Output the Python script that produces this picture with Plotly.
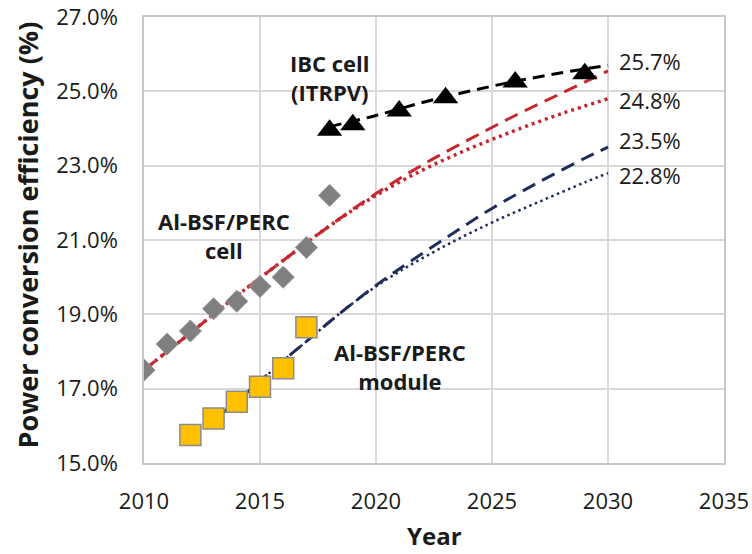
import plotly.graph_objects as go

# ---- data ----
cell_years = [2010, 2011, 2012, 2013, 2014, 2015, 2016, 2017, 2018]
cell_eff = [17.5, 18.2, 18.55, 19.15, 19.35, 19.75, 20.0, 20.8, 22.2]

module_years = [2012, 2013, 2014, 2015, 2016, 2017]
module_eff = [15.75, 16.2, 16.65, 17.05, 17.55, 18.65]

ibc_years = [2018, 2019, 2021, 2023, 2026, 2029]
ibc_eff = [23.95, 24.1, 24.47, 24.83, 25.25, 25.47]

ibc_trend_years = [2018, 2020, 2022, 2024, 2026, 2028, 2030]
ibc_trend = [24.05, 24.35, 24.7, 25.0, 25.27, 25.5, 25.7]

cell_dash_years = [2010, 2012, 2014, 2016, 2018, 2020, 2022, 2024, 2026, 2028, 2030]
cell_dash = [17.5, 18.5, 19.5, 20.45, 21.38, 22.25, 23.02, 23.7, 24.35, 24.95, 25.55]

cell_dot_years = [2010, 2012, 2014, 2016, 2018, 2020, 2022, 2024, 2026, 2028, 2030]
cell_dot = [17.5, 18.5, 19.5, 20.45, 21.38, 22.2, 22.88, 23.45, 23.95, 24.4, 24.8]

mod_dash_years = [2013.4, 2015, 2016, 2017, 2018, 2019, 2020, 2021, 2023, 2025, 2027, 2029, 2030]
mod_dash = [16.35, 17.2, 17.75, 18.27, 18.8, 19.3, 19.78, 20.22, 21.05, 21.85, 22.55, 23.2, 23.5]

mod_dot_years = [2013.4, 2015, 2016, 2017, 2018, 2019, 2020, 2021, 2023, 2025, 2027, 2029, 2030]
mod_dot = [16.35, 17.2, 17.75, 18.27, 18.8, 19.3, 19.75, 20.15, 20.85, 21.47, 22.02, 22.55, 22.8]

end_labels = ["25.7%", "24.8%", "23.5%", "22.8%"]
end_label_pos = [25.81, 24.78, 23.7, 22.76]

x_ticks = [2010, 2015, 2020, 2025, 2030, 2035]
y_ticks = [15, 17, 19, 21, 23, 25, 27]

RED = "#C8262E"
NAVY = "#1F2D5C"
FONT = "Open Sans"
TXT = "#1a1a1a"

fig = go.Figure()

# trend lines
fig.add_trace(go.Scatter(x=cell_dash_years, y=cell_dash, mode="lines", line_shape="spline",
                         line=dict(color=RED, width=3, dash="14px,8px")))
fig.add_trace(go.Scatter(x=cell_dot_years, y=cell_dot, mode="lines", line_shape="spline",
                         line=dict(color=RED, width=3.5, dash="3px,4px")))
fig.add_trace(go.Scatter(x=mod_dash_years, y=mod_dash, mode="lines", line_shape="spline",
                         line=dict(color=NAVY, width=3, dash="14px,8px")))
fig.add_trace(go.Scatter(x=mod_dot_years, y=mod_dot, mode="lines", line_shape="spline",
                         line=dict(color=NAVY, width=2.5, dash="2.5px,3.5px")))
fig.add_trace(go.Scatter(x=ibc_trend_years, y=ibc_trend, mode="lines", line_shape="spline",
                         line=dict(color="black", width=3, dash="12px,7px")))

# markers
fig.add_trace(go.Scatter(x=cell_years, y=cell_eff, mode="markers",
                         marker=dict(symbol="diamond", size=17, color="#7F7F7F",
                                     line=dict(color="#9a9a9a", width=1))))
fig.add_trace(go.Scatter(x=module_years, y=module_eff, mode="markers",
                         marker=dict(symbol="square", size=21, color="#FFC000",
                                     line=dict(color="#8c8c8c", width=1.5))))
fig.add_trace(go.Scatter(x=ibc_years, y=ibc_eff, mode="markers",
                         marker=dict(symbol="triangle-up", size=22, color="black")))

annotations = []
for txt, yv in zip(end_labels, end_label_pos):
    annotations.append(dict(x=2030.4, y=yv, xref="x", yref="y", text=txt, showarrow=False,
                            xanchor="left", yanchor="middle",
                            font=dict(family=FONT, size=22, color=TXT)))

annotations += [
    dict(x=2018.0, y=25.38, xref="x", yref="y", text="<b>IBC cell<br>(ITRPV)</b>", showarrow=False,
         xanchor="center", yanchor="middle", font=dict(family=FONT, size=22, color=TXT)),
    dict(x=2013.45, y=21.12, xref="x", yref="y", text="<b>Al-BSF/PERC<br>cell</b>", showarrow=False,
         xanchor="center", yanchor="middle", font=dict(family=FONT, size=22, color=TXT)),
    dict(x=2021.03, y=17.6, xref="x", yref="y", text="<b>Al-BSF/PERC<br>module</b>", showarrow=False,
         xanchor="center", yanchor="middle", font=dict(family=FONT, size=22, color=TXT)),
    dict(x=0.5, y=-0.163, xref="paper", yref="paper", text="<b>Year</b>", showarrow=False,
         xanchor="center", yanchor="middle", font=dict(family=FONT, size=24, color=TXT)),
    dict(x=-0.2, y=0.51, xref="paper", yref="paper", text="<b>Power conversion efficiency (%)</b>",
         showarrow=False, textangle=-90, xanchor="center", yanchor="middle",
         font=dict(family=FONT, size=27, color=TXT)),
]

fig.update_layout(
    width=752, height=554,
    margin=dict(l=144, r=28, t=17, b=91, pad=0, autoexpand=False),
    paper_bgcolor="white", plot_bgcolor="white",
    showlegend=False,
    font=dict(family=FONT, size=22, color=TXT),
    annotations=annotations,
)
fig.update_xaxes(range=[2010, 2035], tickvals=x_ticks, ticktext=[str(v) for v in x_ticks],
                 showgrid=True, gridcolor="#d9d9d9", gridwidth=1.5,
                 showline=True, linecolor="#c8c8c8", linewidth=1.5, mirror=True,
                 ticks="", ticklabelstandoff=18, zeroline=False, automargin=False,
                 tickfont=dict(family=FONT, size=22, color=TXT))
fig.update_yaxes(range=[15, 27], tickvals=y_ticks, ticktext=[f"{v:.1f}%" for v in y_ticks],
                 showgrid=True, gridcolor="#d9d9d9", gridwidth=1.5,
                 showline=True, linecolor="#c8c8c8", linewidth=1.5, mirror=True,
                 ticks="", ticklabelstandoff=20, zeroline=False, automargin=False,
                 tickfont=dict(family=FONT, size=22, color=TXT))

fig.write_html("out.html")
